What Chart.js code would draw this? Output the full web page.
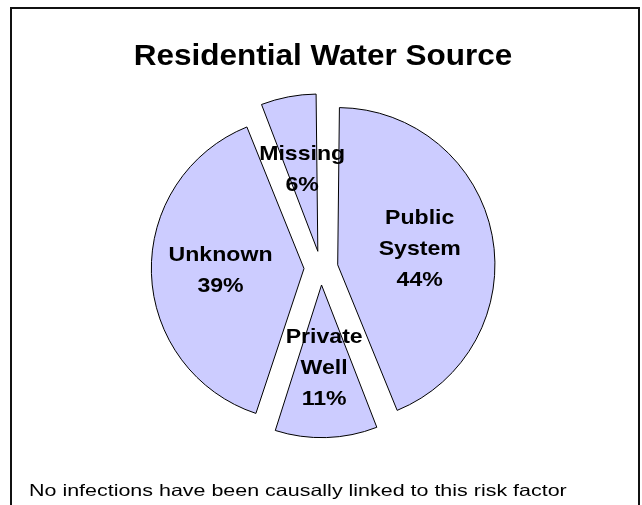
<!DOCTYPE html>
<html lang="en">
<head>
    <meta charset="UTF-8">
    <title>Residential Water Source</title>
    <script src="https://cdn.jsdelivr.net/npm/chart.js"></script>
    <style>
        body, html {
            margin: 0;
            padding: 0;
            background: #fff;
            overflow: hidden;
        }

        .frame {
            position: absolute;
            left: 10px;
            top: 7px;
            width: 626px;
            height: 520px;
            border: 2px solid #111;
            border-bottom: none;
        }

        #waterChart {
            position: absolute;
            left: 0;
            top: 0;
        }
    </style>
</head>
<body>

    <div class="frame"></div>
    <canvas id="waterChart" width="642" height="505"></canvas>

    <script>
        var chartTitle = 'Residential Water Source';
        var footNote = 'No infections have been causally linked to this risk factor';

        // clockwise from 12 o'clock
        var sources = ['Public System', 'Private Well', 'Unknown', 'Missing'];
        var percents = [44, 11, 39, 6];

        // draws text squeezed wider, like the old bitmap fonts
        function wideText(ctx, text, x, y, sx) {
            ctx.save();
            ctx.translate(x, y);
            ctx.scale(sx, 1);
            ctx.fillText(text, 0, 0);
            ctx.restore();
        }

        var textPlugin = {
            id: 'textPlugin',
            afterDraw: function (chart) {
                var ctx = chart.ctx;
                ctx.save();
                ctx.fillStyle = '#000';

                // title
                ctx.font = 'bold 30px "Liberation Sans", Arial, sans-serif';
                ctx.textAlign = 'center';
                ctx.textBaseline = 'alphabetic';
                wideText(ctx, chartTitle, 323, 65, 1.05);

                // slice labels
                var meta = chart.getDatasetMeta(0);
                ctx.font = 'bold 21px "Liberation Sans", Arial, sans-serif';
                ctx.textBaseline = 'middle';
                meta.data.forEach(function (arc, i) {
                    var p = arc.getProps(['x', 'y', 'startAngle', 'endAngle', 'outerRadius'], true);
                    var mid = (p.startAngle + p.endAngle) / 2;
                    var off = chart.data.datasets[0].offset / 4;
                    var d = off + p.outerRadius * 0.57;
                    var cx = p.x + Math.cos(mid) * d;
                    var cy = p.y + Math.sin(mid) * d;
                    var lines = sources[i].split(' ');
                    lines.push(percents[i] + '%');
                    var lh = 31;
                    var top = cy - (lines.length - 1) * lh / 2;
                    lines.forEach(function (t, j) {
                        wideText(ctx, t, cx, top + j * lh, 1.1);
                    });
                });

                // foot note
                ctx.font = '16.5px "Liberation Sans", Arial, sans-serif';
                ctx.textAlign = 'left';
                ctx.textBaseline = 'alphabetic';
                wideText(ctx, footNote, 29, 496, 1.3);

                ctx.restore();
            }
        };

        var canvas = document.getElementById('waterChart');
        var chart = new Chart(canvas, {
            type: 'pie',
            data: {
                labels: sources,
                datasets: [{
                    data: percents,
                    backgroundColor: '#ccccff',
                    borderColor: '#000',
                    borderWidth: 1,
                    offset: 68
                }]
            },
            options: {
                responsive: false,
                animation: false,
                layout: {
                    padding: { top: 87, bottom: 56, left: 0, right: 0 }
                },
                plugins: {
                    legend: { display: false },
                    tooltip: { enabled: false }
                }
            },
            plugins: [textPlugin]
        });
    </script>
</body>
</html>
